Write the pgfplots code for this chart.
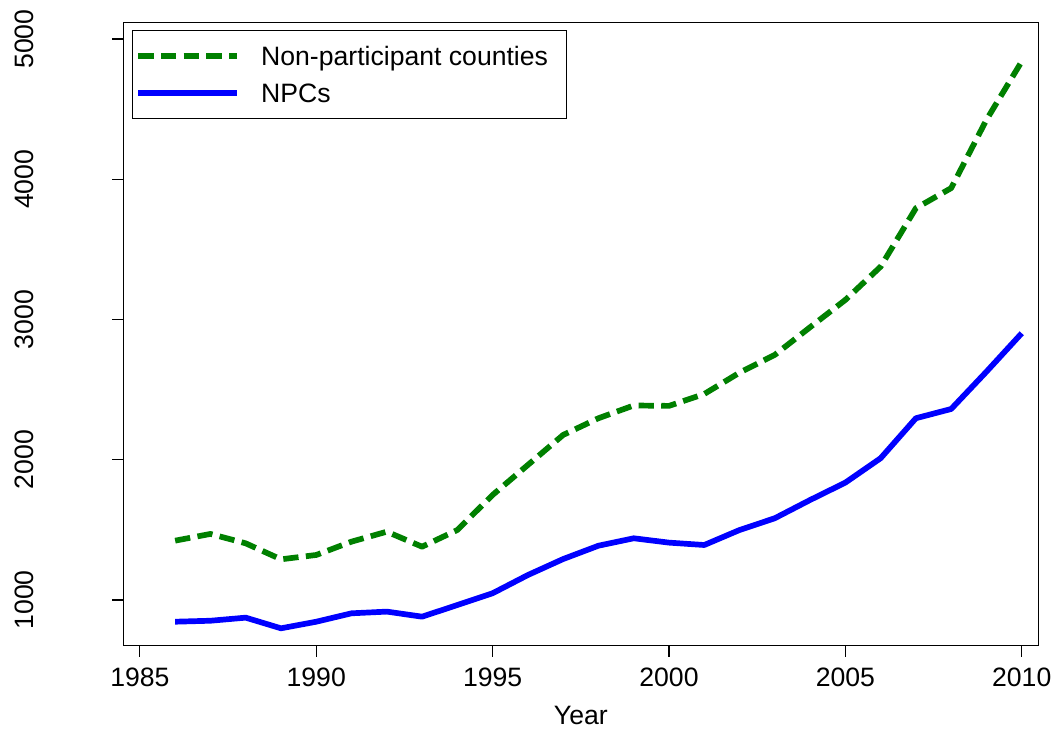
\documentclass[border=0pt]{standalone}
\usepackage{pgfplots}
\pgfplotsset{compat=1.18}
\usepackage{fontspec}
\setmainfont{Liberation Sans}
\newcommand\lbl{\fontsize{26.6bp}{32bp}\selectfont}
\definecolor{npgreen}{RGB}{0,128,0}
\definecolor{npcblue}{RGB}{0,0,255}

\pgfplotstableread{
year  nonpart  npc
1986  1423  845
1987  1471  852
1988  1404  874
1989  1290  798
1990  1321  845
1991  1416  905
1992  1487  917
1993  1380  881
1994  1499  964
1995  1749  1048
1996  1963  1178
1997  2177  1292
1998  2296  1387
1999  2387  1440
2000  2384  1409
2001  2469  1392
2002  2621  1499
2003  2748  1583
2004  2945  1713
2005  3140  1837
2006  3377  2011
2007  3794  2296
2008  3937  2362
2009  4424  2628
2010  4840  2902
}\datatable

\begin{document}
\begin{tikzpicture}
\path[use as bounding box] (-123.3bp,-88.3bp) rectangle (936.7bp,645.7bp);
\begin{axis}[
  at={(0,0)}, anchor=south west,
  scale only axis, width=915bp, height=623.2bp,
  xmin=1984.53, xmax=2010.47, ymin=674, ymax=5118,
  xtick={1985,1990,...,2010}, ytick={1000,2000,...,5000},
  xtick pos=bottom, ytick pos=left,
  tick align=outside, major tick length=11bp,
  axis line style={line width=1.1bp},
  every tick/.style={black, line width=1.1bp},
  /pgf/number format/assume math mode=true,
  /pgf/number format/1000 sep={},
  tick label style={font=\lbl},
  xticklabel style={anchor=base, yshift=-29.6bp},
  yticklabel style={xshift=-79.3bp, rotate=90, anchor=base},
  xlabel={Year},
  xlabel style={font=\lbl, at={(axis description cs:0.5,0)}, anchor=base, yshift=-78.8bp},
  legend cell align=left,
  legend image code/.code={\draw[#1] (2bp,0bp) -- (101bp,0bp);},
  legend style={
    at={(axis description cs:0,1)}, anchor=north west,
    xshift=9bp, yshift=-7.5bp,
    draw=black, line width=1bp,
    inner xsep=2.7bp, inner ysep=13bp,
    row sep=12bp,
    nodes={inner xsep=9bp, inner ysep=0bp, text height=22bp, text depth=3bp},
    /tikz/every odd column/.append style={column sep=12bp},
    font=\lbl,
  },
]
\addplot[npgreen, line width=5.7bp, line cap=butt, line join=round,
  dash pattern=on 15.3bp off 7.4bp] table[x=year, y=nonpart] {\datatable};
\addlegendentry{\makebox[294bp][l]{Non-participant counties}}
\addplot[npcblue, line width=5.7bp, line join=round] table[x=year, y=npc] {\datatable};
\addlegendentry{NPCs}
\end{axis}
\end{tikzpicture}
\end{document}
